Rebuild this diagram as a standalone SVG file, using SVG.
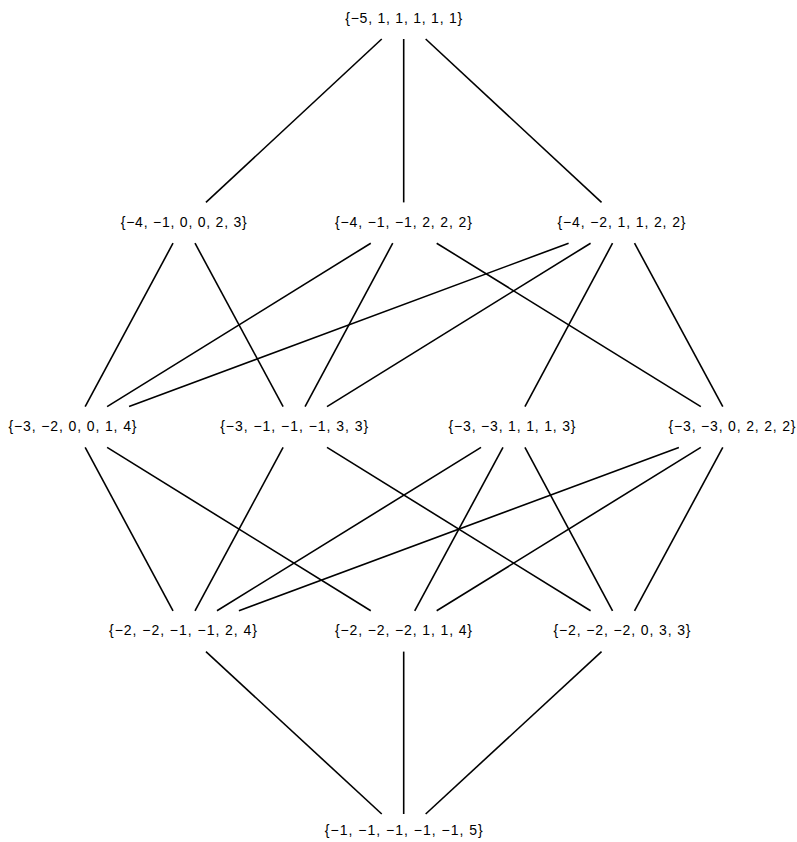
<svg xmlns="http://www.w3.org/2000/svg" width="797" height="842" viewBox="0 0 797 842">
<style>
.e{stroke:#000;stroke-width:1.6;fill:none;stroke-linecap:butt}
.t{font-family:"Liberation Sans",Arial,sans-serif;font-size:14px;fill:#000;text-anchor:middle}
</style>
<rect width="797" height="842" fill="#fff"/>
<g id="connectors">
<line class="e" x1="381.75" y1="39" x2="205.95" y2="202.4"/>
<line class="e" x1="403.7" y1="39" x2="403.7" y2="202.4"/>
<line class="e" x1="425.66" y1="39" x2="601.54" y2="202.4"/>
<line class="e" x1="173.03" y1="243.2" x2="85.17" y2="406.6"/>
<line class="e" x1="195.0" y1="243.2" x2="283.1" y2="406.6"/>
<line class="e" x1="370.78" y1="243.2" x2="107.12" y2="406.6"/>
<line class="e" x1="392.75" y1="243.2" x2="305.05" y2="406.6"/>
<line class="e" x1="436.68" y1="243.2" x2="700.82" y2="406.6"/>
<line class="e" x1="568.62" y1="243.2" x2="129.08" y2="406.6"/>
<line class="e" x1="590.59" y1="243.2" x2="327.01" y2="406.6"/>
<line class="e" x1="612.56" y1="243.2" x2="524.94" y2="406.6"/>
<line class="e" x1="634.52" y1="243.2" x2="722.78" y2="406.6"/>
<line class="e" x1="85.17" y1="447.4" x2="173.03" y2="610.8"/>
<line class="e" x1="107.12" y1="447.4" x2="370.78" y2="610.8"/>
<line class="e" x1="283.1" y1="447.4" x2="195.0" y2="610.8"/>
<line class="e" x1="327.01" y1="447.4" x2="590.59" y2="610.8"/>
<line class="e" x1="481.03" y1="447.4" x2="216.97" y2="610.8"/>
<line class="e" x1="502.98" y1="447.4" x2="414.72" y2="610.8"/>
<line class="e" x1="524.94" y1="447.4" x2="612.56" y2="610.8"/>
<line class="e" x1="678.88" y1="447.4" x2="238.93" y2="610.8"/>
<line class="e" x1="700.82" y1="447.4" x2="436.68" y2="610.8"/>
<line class="e" x1="722.78" y1="447.4" x2="634.52" y2="610.8"/>
<line class="e" x1="205.95" y1="651.6" x2="381.75" y2="814"/>
<line class="e" x1="403.7" y1="651.6" x2="403.7" y2="814"/>
<line class="e" x1="601.54" y1="651.6" x2="425.66" y2="814"/>
</g>
<g id="n1"><text class="t" x="403.7" y="23" textLength="117" lengthAdjust="spacing">{−5, 1, 1, 1, 1, 1}</text></g>
<g id="n2"><text class="t" x="183.7" y="227" textLength="126" lengthAdjust="spacing">{−4, −1, 0, 0, 2, 3}</text></g>
<g id="n3"><text class="t" x="403.4" y="227" textLength="137" lengthAdjust="spacing">{−4, −1, −1, 2, 2, 2}</text></g>
<g id="n4"><text class="t" x="621.5" y="227" textLength="128" lengthAdjust="spacing">{−4, −2, 1, 1, 2, 2}</text></g>
<g id="n5"><text class="t" x="72.5" y="431" textLength="128" lengthAdjust="spacing">{−3, −2, 0, 0, 1, 4}</text></g>
<g id="n6"><text class="t" x="294.2" y="431" textLength="148" lengthAdjust="spacing">{−3, −1, −1, −1, 3, 3}</text></g>
<g id="n7"><text class="t" x="512" y="431" textLength="127" lengthAdjust="spacing">{−3, −3, 1, 1, 1, 3}</text></g>
<g id="n8"><text class="t" x="732" y="431" textLength="127" lengthAdjust="spacing">{−3, −3, 0, 2, 2, 2}</text></g>
<g id="n9"><text class="t" x="183" y="635" textLength="148" lengthAdjust="spacing">{−2, −2, −1, −1, 2, 4}</text></g>
<g id="n10"><text class="t" x="403.5" y="635" textLength="137" lengthAdjust="spacing">{−2, −2, −2, 1, 1, 4}</text></g>
<g id="n11"><text class="t" x="622" y="635" textLength="137" lengthAdjust="spacing">{−2, −2, −2, 0, 3, 3}</text></g>
<g id="n12"><text class="t" x="403.8" y="835" textLength="158" lengthAdjust="spacing">{−1, −1, −1, −1, −1, 5}</text></g>
</svg>
